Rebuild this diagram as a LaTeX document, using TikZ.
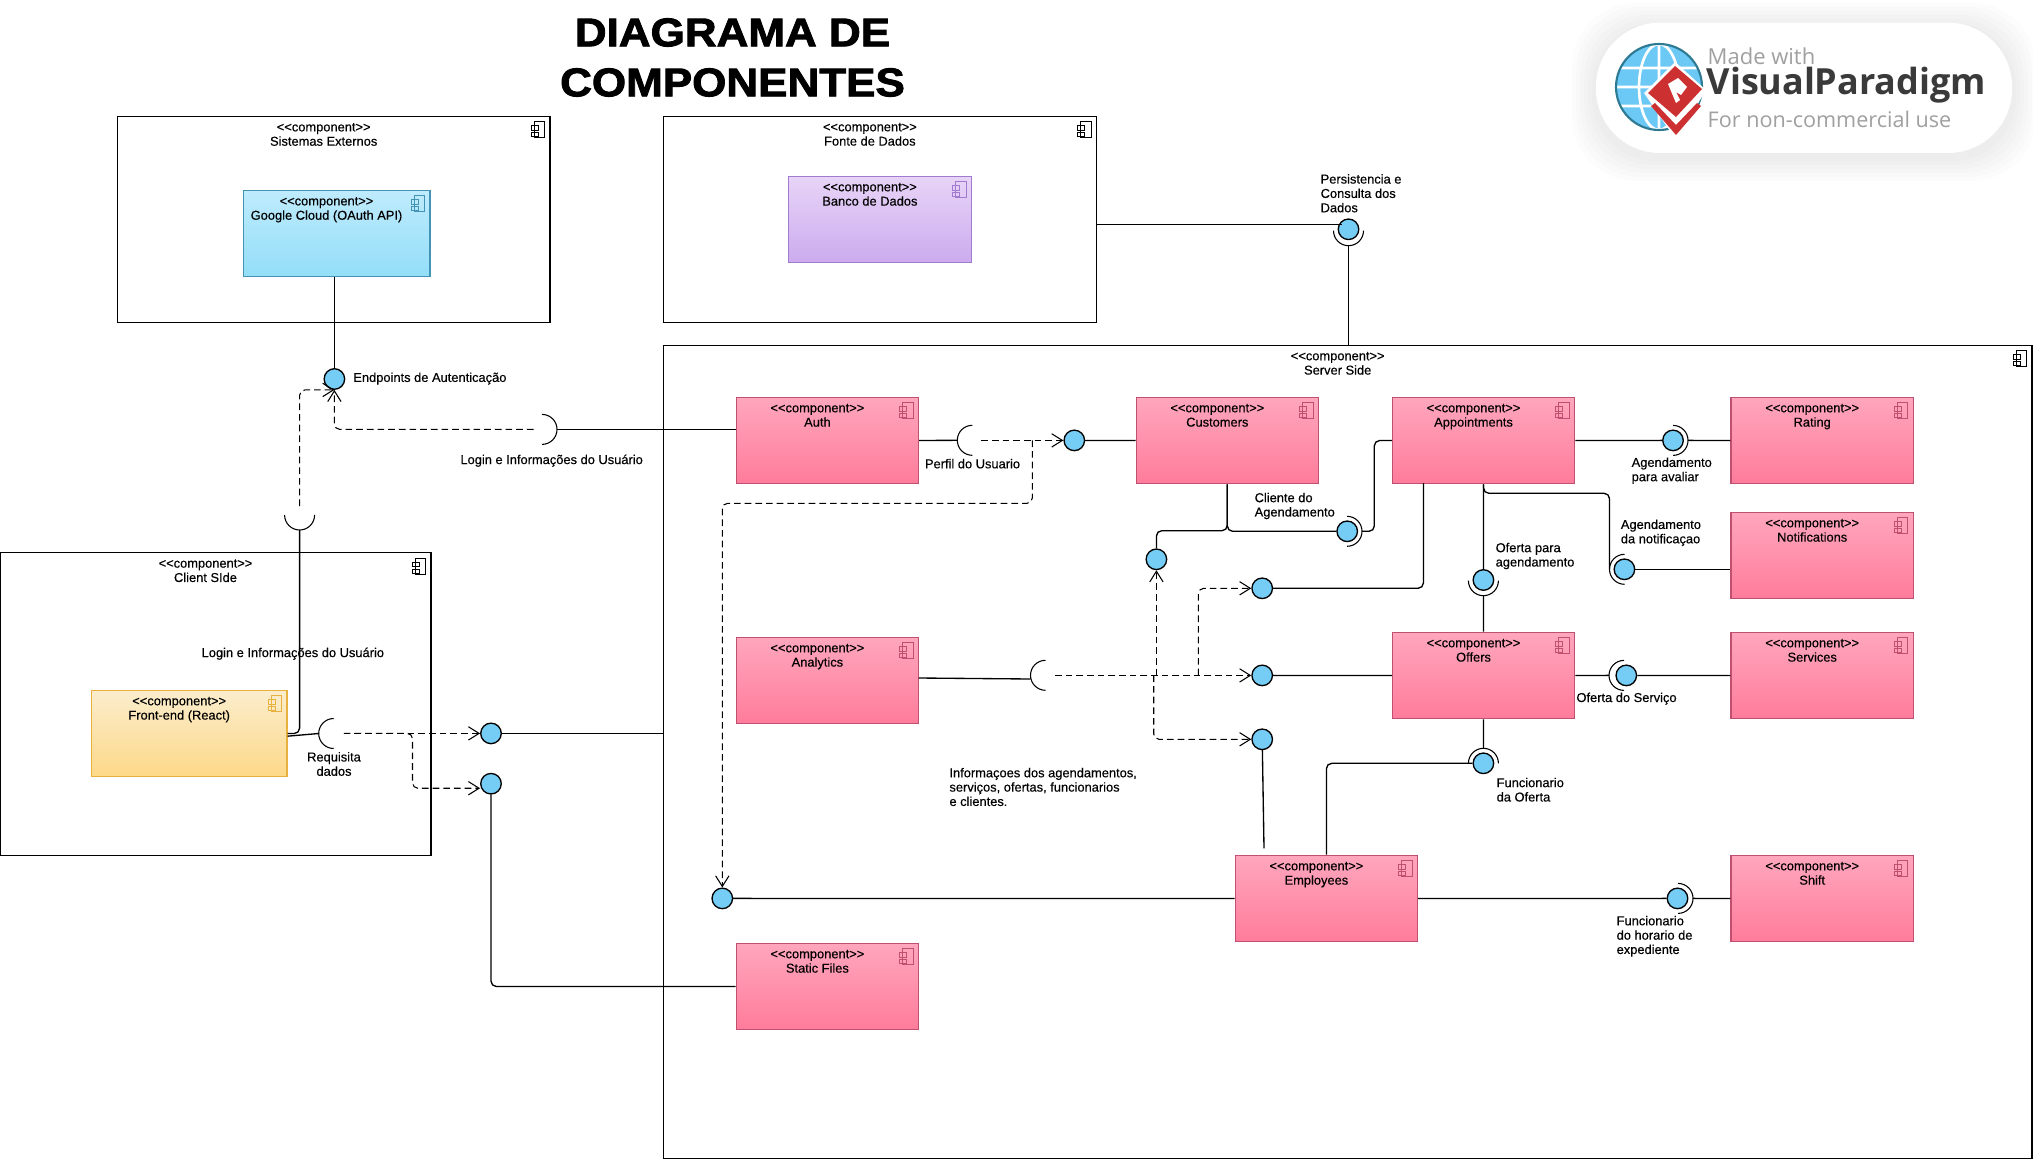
\documentclass[tikz,border=0pt]{standalone}
\usepackage{fontspec}
\usetikzlibrary{arrows.meta}
\newfontfamily\lblfont[FakeBold=0.35]{Liberation Sans}
\newfontfamily\titlefont[FakeBold=2.2,FakeStretch=1.1]{Liberation Sans}
\newfontfamily\logofont{Open Sans}

\definecolor{ifaceblue}{RGB}{117,204,245}
\definecolor{pinktop}{RGB}{255,166,189}
\definecolor{pinkbot}{RGB}{255,124,155}
\definecolor{pinkline}{RGB}{192,80,112}
\definecolor{bluetop}{RGB}{191,235,253}
\definecolor{bluebot}{RGB}{147,222,248}
\definecolor{blueline}{RGB}{67,147,181}
\definecolor{yellowtop}{RGB}{251,237,205}
\definecolor{yellowbot}{RGB}{253,216,136}
\definecolor{yellowline}{RGB}{232,176,62}
\definecolor{purpletop}{RGB}{232,212,247}
\definecolor{purplebot}{RGB}{203,171,238}
\definecolor{purpleline}{RGB}{160,123,208}
\definecolor{logogray}{RGB}{160,160,160}
\definecolor{logodark}{RGB}{58,58,58}
\definecolor{logored}{RGB}{204,48,48}
\definecolor{logoteal}{RGB}{47,122,147}
\definecolor{logoblue}{RGB}{108,200,245}

\tikzset{
	every picture/.style={line width=1pt},
	outerbox/.style={draw=black,line width=1pt,inner sep=0},
	innerbox/.style={line width=1pt,inner sep=0,minimum width=136.6pt,minimum height=64.8pt},
	pinkbox/.style={innerbox,draw=pinkline,top color=pinktop,bottom color=pinkbot},
	bluebox/.style={innerbox,draw=blueline,top color=bluetop,bottom color=bluebot,minimum width=140pt},
	yellowbox/.style={innerbox,draw=yellowline,top color=yellowtop,bottom color=yellowbot,minimum width=146.6pt},
	purplebox/.style={innerbox,draw=purpleline,top color=purpletop,bottom color=purplebot},
	comptext/.style={anchor=north,inner sep=0,align=center,font=\lblfont\fontsize{9.65}{10.75}\selectfont},
	lbl/.style={anchor=west,inner sep=0,align=left,font=\lblfont\fontsize{9.65}{10.75}\selectfont},
	iface/.style={circle,draw=black,fill=ifaceblue,line width=1pt,inner sep=0,minimum size=15.4pt},
	wire/.style={line width=1pt,rounded corners=4pt},
	depend/.style={line width=.8pt,rounded corners=4pt,dash pattern=on 5pt off 3pt,-{Straight Barb[length=8pt,width=10pt]}},
	socketline/.style={line width=.8pt}
}

% box text and the small component icon
\newcommand{\compdeco}[3]{%
	\node[comptext] (#1Text) at ([xshift=-7.5pt,yshift=5pt]#1.north) {<{}<component>{}>\\#3};
	\draw[#2,line width=.7pt,shift={(#1.north east)}] (-6,6) rectangle (-16.5,22) (-19.5,10) rectangle (-12.5,14.5) (-19.5,17) rectangle (-12.5,21);
}
% arc of a socket, apex at the point, opening at the given angle
\newcommand{\socket}[4]{%
	\coordinate (#1) at (#2,#3);
	\draw[socketline,shift={(#1)},rotate=#4] (15,-15) arc[start angle=270,end angle=90,radius=15];
}

\begin{document}
\begin{tikzpicture}[x=0.75pt,y=0.75pt,yscale=-1,xscale=1]
	\useasboundingbox (0,0) rectangle (2033,1159);

	% Title
	\node[font=\titlefont\bfseries\fontsize{30}{30}\selectfont,inner sep=0] (titleTop) at (732.5,32.5) {DIAGRAMA DE};
	\node[font=\titlefont\bfseries\fontsize{30}{30}\selectfont,inner sep=0] (titleBottom) at (732.5,82.5) {COMPONENTES};

	% Logo
	\foreach \g in {24,20,16,12,8,4}
		\fill[black,opacity=.012,rounded corners=48pt] (1596-\g,22.7-\g+4) rectangle (2012+\g,153+\g+4);
	\fill[white,rounded corners=48pt] (1596,22.7) rectangle (2012,153);
	\begin{scope}
		\clip (1659,87) circle[radius=43];
		\fill[logoblue] (1614,43) rectangle (1704,131);
		\draw[white,line width=2pt] (1659,87) ellipse[x radius=20,y radius=43] (1659,43) -- (1659,131)
			(1614,68) -- (1704,68) (1614,87) -- (1704,87) (1614,106) -- (1704,106);
	\end{scope}
	\draw[logoteal,line width=1.6pt] (1659,87) circle[radius=43];
	\fill[white] (1644,93) -- (1675,62) -- (1706,90) -- (1676,140) -- cycle;
	\fill[logored] (1648,93) -- (1675,66) -- (1702,89) -- (1676,117) -- cycle;
	\fill[white] (1668,84) -- (1678,78) -- (1687,87) -- (1681,95) -- (1676,92) -- (1680,100) -- (1676,103) -- cycle;
	\fill[logored] (1651,106) -- (1655,103) -- (1676,125) -- (1697,103) -- (1701,106) -- (1676,135) -- cycle;
	\node[anchor=west,inner sep=0,text=logogray,font=\logofont\fontsize{16.5}{16.5}\selectfont] (logoMade) at (1707,56.5) {Made with};
	\node[anchor=west,inner sep=0,text=logodark,font=\logofont\bfseries\fontsize{27}{27}\selectfont] (logoVisual) at (1706,85) {Visual\kern-.5pt Paradigm};
	\node[anchor=west,inner sep=0,text=logogray,font=\logofont\fontsize{16.2}{16.2}\selectfont] (logoFor) at (1707,119) {For non-commercial use};

	% Outer components
	\node[outerbox,minimum width=324.5pt,minimum height=154.5pt] (externos) at (333.7,219.4) {};
	\node[outerbox,minimum width=324.8pt,minimum height=154.5pt] (fonte) at (879.9,219.3) {};
	\node[outerbox,minimum width=323.3pt,minimum height=227pt] (client) at (215.5,704) {};
	\node[outerbox,minimum width=1026.5pt,minimum height=609.8pt] (server) at (1347.7,751.8) {};
	\compdeco{externos}{black}{Sistemas Externos}
	\compdeco{fonte}{black}{Fonte de Dados}
	\compdeco{client}{black}{Client SIde}
	\compdeco{server}{black}{Server Side}

	% Inner components
	\node[bluebox] (google) at (336.5,233.6) {};
	\node[purplebox,minimum width=137.3pt] (banco) at (879.9,219.5) {};
	\node[yellowbox] (front) at (189.2,733.5) {};
	\node[pinkbox] (auth) at (827.4,440.5) {};
	\node[pinkbox] (customers) at (1227.3,440.5) {};
	\node[pinkbox] (appointments) at (1483.5,440.5) {};
	\node[pinkbox] (rating) at (1822.2,440.5) {};
	\node[pinkbox] (notifications) at (1822.2,555.5) {};
	\node[pinkbox] (offers) at (1483.5,675.5) {};
	\node[pinkbox] (services) at (1822.2,675.5) {};
	\node[pinkbox] (analytics) at (827.4,680.5) {};
	\node[pinkbox] (employees) at (1326.4,898.5) {};
	\node[pinkbox] (shift) at (1822.2,898.5) {};
	\node[pinkbox] (staticfiles) at (827.4,986.5) {};
	\compdeco{google}{blueline}{Google Cloud (OAuth API)}
	\compdeco{banco}{purpleline}{Banco de Dados}
	\compdeco{front}{yellowline}{Front-end (React)}
	\compdeco{auth}{pinkline}{Auth}
	\compdeco{customers}{pinkline}{Customers}
	\compdeco{appointments}{pinkline}{Appointments}
	\compdeco{rating}{pinkline}{Rating}
	\compdeco{notifications}{pinkline}{Notifications}
	\compdeco{offers}{pinkline}{Offers}
	\compdeco{services}{pinkline}{Services}
	\compdeco{analytics}{pinkline}{Analytics}
	\compdeco{employees}{pinkline}{Employees}
	\compdeco{shift}{pinkline}{Shift}
	\compdeco{staticfiles}{pinkline}{Static Files}

	% Sockets
	\socket{socketGoogle}{299.6}{530}{270}
	\socket{socketLogin}{557}{429.4}{180}
	\socket{socketFront}{318.7}{733.5}{0}
	\socket{socketPerfil}{957.3}{440.3}{0}
	\socket{socketAnalytics}{1030.5}{675.3}{0}
	\socket{socketPersist}{1348.5}{245.7}{270}
	\socket{socketClient}{1362}{531.3}{180}
	\socket{socketOffer}{1483.4}{595.7}{270}
	\socket{socketNotif}{1609.5}{569.3}{0}
	\socket{socketRating}{1688}{440.4}{180}
	\socket{socketServices}{1609}{675.4}{0}
	\socket{socketEmpOffer}{1483.4}{748.3}{90}
	\socket{socketShift}{1693}{898.4}{180}

	% Interfaces
	\node[iface] (ifaceAuth) at (334.4,379) {};
	\node[iface] (ifaceData) at (491,733.4) {};
	\node[iface] (ifaceFiles) at (491,783.7) {};
	\node[iface] (ifaceCustomers) at (1074.3,440.4) {};
	\node[iface] (ifaceStaff) at (722.3,898.4) {};
	\node[iface] (ifaceClientOut) at (1156.4,559.3) {};
	\node[iface] (ifaceAppt) at (1262.2,588.3) {};
	\node[iface] (ifaceOffers) at (1262.2,675.4) {};
	\node[iface] (ifaceEmp) at (1262.2,739.3) {};
	\node[iface] (ifacePersist) at (1348.5,229.3) {};
	\node[iface] (ifaceClient) at (1347.2,531.3) {};
	\node[iface] (ifaceOffer) at (1483.4,580) {};
	\node[iface] (ifaceNotif) at (1624.4,569.3) {};
	\node[iface] (ifaceRating) at (1673,440.4) {};
	\node[iface] (ifaceServices) at (1626.3,675.4) {};
	\node[iface] (ifaceEmpOffer) at (1483.4,763.3) {};
	\node[iface] (ifaceShift) at (1677.5,898.4) {};

	% Free ends and bends
	\coordinate (depClient) at (299.6,506);
	\coordinate (depLogin) at (533.5,429.4);
	\coordinate (depFront) at (343.8,733.4);
	\coordinate (branchFront) at (412.5,733.4);
	\coordinate (depPerfil) at (981.4,440.4);
	\coordinate (branchPerfil) at (1032.3,440.4);
	\coordinate (turnPerfil) at (1032.3,503.3);
	\coordinate (depAnalytics) at (1055,675.4);
	\coordinate (branchUp) at (1156.4,675.4);
	\coordinate (branchDown) at (1153.7,675.4);
	\coordinate (branchRight) at (1198.4,675.4);
	\coordinate (junctionCust) at (1227.3,530.7);
	\coordinate (turnClient) at (1374.3,440.5);
	\coordinate (apptLeft) at (1423.4,483);
	\coordinate (turnNotif) at (1609.5,493.3);
	\coordinate (looseEmp) at (1264,848.3);
	\coordinate (persistIn) at (1342,224.3);
	\coordinate (analyticsStart) at (918.5,678);
	\coordinate (analyticsEnd) at (1030.5,679);

	% Solid connectors
	\draw[wire] (google.south -| ifaceAuth) -- (ifaceAuth);
	\draw[wire] (socketLogin) -- (socketLogin -| auth.west);
	\draw[wire] (front.east) -| (socketGoogle);
	\draw[wire] ([yshift=2pt]front.east) -- (socketFront);
	\draw[wire] (ifaceData) -- (ifaceData -| server.west);
	\draw[wire] (ifaceFiles) |- (staticfiles.west);
	\draw[wire] (auth.east) -- (socketPerfil);
	\draw[wire] (ifaceCustomers) -- (customers.west);
	\draw[wire] (analyticsStart) -- (analyticsEnd);
	\draw[wire] (customers.south) -- (junctionCust) -| (ifaceClientOut);
	\draw[wire] (customers.south) |- (ifaceClient);
	\draw[wire] (socketClient) -| (turnClient) -- (appointments.west);
	\draw[wire] (apptLeft) |- (ifaceAppt);
	\draw[wire] (appointments.south) -- (ifaceOffer);
	\draw[wire] (socketOffer) -- (offers.north);
	\draw[wire] (appointments.south) |- (turnNotif) -- (socketNotif);
	\draw[wire] (ifaceNotif) -- (ifaceNotif -| notifications.west);
	\draw[wire] (appointments.east) -- (ifaceRating);
	\draw[wire] (socketRating) -- (rating.west);
	\draw[wire] (ifaceOffers) -- (offers.west);
	\draw[wire] (offers.east) -- (socketServices);
	\draw[wire] (ifaceServices) -- (services.west);
	\draw[wire] (offers.south) -- (socketEmpOffer);
	\draw[wire] (ifaceEmpOffer) -| (employees.north);
	\draw[wire] (ifaceEmp) -- (looseEmp);
	\draw[wire] (ifaceStaff) -- (employees.west);
	\draw[wire] (employees.east) -- (ifaceShift);
	\draw[wire] (socketShift) -- (shift.west);
	\draw[wire] (persistIn -| fonte.east) -- (persistIn);
	\draw[wire] (socketPersist) -- (socketPersist |- server.north);

	% Dashed dependencies
	\draw[depend] (depClient) |- (ifaceAuth.south);
	\draw[depend] (depLogin) -| (ifaceAuth.south);
	\draw[depend] (depFront) -- (ifaceData);
	\draw[depend] (depFront) -- (branchFront) |- ([yshift=3.4pt]ifaceFiles.west);
	\draw[depend] (depPerfil) -- (ifaceCustomers);
	\draw[depend] (branchPerfil) -- (turnPerfil) -| (ifaceStaff.north);
	\draw[depend] (depAnalytics) -- (ifaceOffers);
	\draw[depend] (branchUp) -- (ifaceClientOut.south);
	\draw[depend] (branchDown) |- (ifaceEmp.west);
	\draw[depend] (branchRight) |- (ifaceAppt.west);

	% Text Node
	\node[lbl] (lblEndpoints) at (352.7,378.6) {Endpoints de Autenticação};
	\node[lbl] (lblLoginTop) at (459.8,460.7) {Login e Informações do Usuário};
	\node[lbl] (lblLoginBottom) at (201,653.7) {Login e Informações do Usuário};
	\node[lbl,align=center,anchor=center] (lblRequisita) at (334,764) {Requisita\\dados};
	\node[lbl] (lblPerfil) at (924.3,463.7) {Perfil do Usuario};
	\node[lbl] (lblCliente) at (1254,506) {Cliente do\\Agendamento};
	\node[lbl] (lblInfo) at (948.8,787) {Informaçoes dos agendamentos,\\serviços, ofertas, funcionarios\\e clientes.};
	\node[lbl] (lblAvaliar) at (1631,470.7) {Agendamento\\para avaliar};
	\node[lbl] (lblNotif) at (1620.2,532.8) {Agendamento\\da notificaçao};
	\node[lbl] (lblOferta) at (1495,556) {Oferta para\\agendamento};
	\node[lbl] (lblServico) at (1575.8,698.7) {Oferta do Serviço};
	\node[lbl] (lblFuncOferta) at (1496,789.7) {Funcionario\\da Oferta};
	\node[lbl] (lblFuncShift) at (1616,936.3) {Funcionario\\do horario de\\expediente};
	\node[lbl] (lblPersist) at (1320,193.3) {Persistencia e\\Consulta dos\\Dados};
\end{tikzpicture}
\end{document}
